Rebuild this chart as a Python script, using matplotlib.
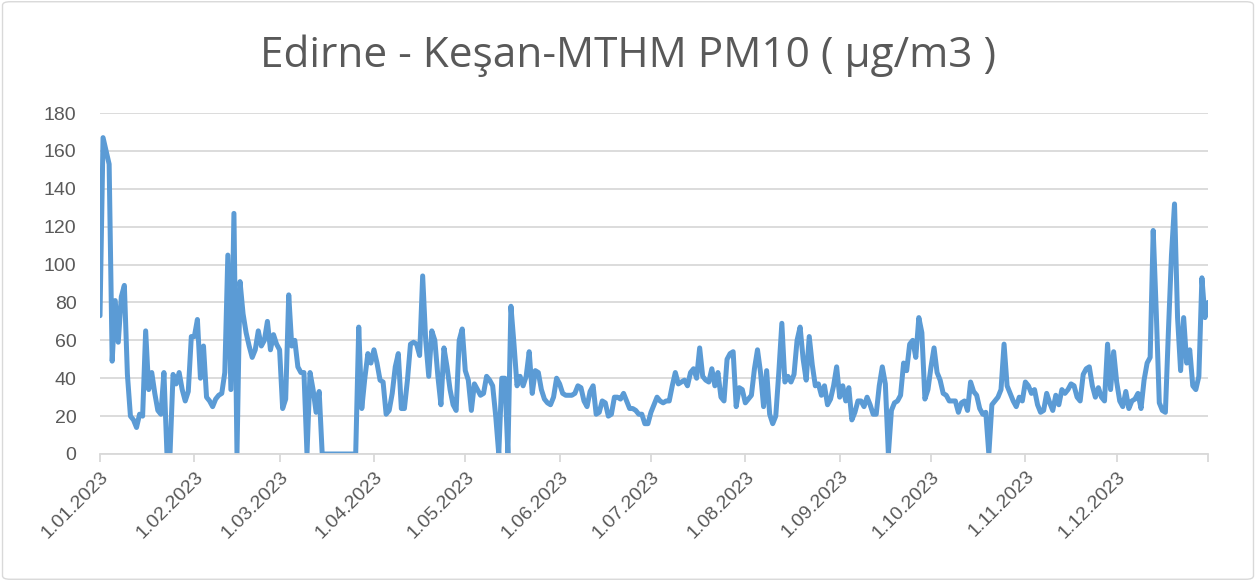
import matplotlib
matplotlib.use("Agg")
import matplotlib.pyplot as plt
import matplotlib.dates as mdates
import pandas as pd
import numpy as np
from matplotlib.patches import FancyBboxPatch

# Daily PM10 values (µg/m3), 2023, one list per month
jan = [73, 167, 160, 153, 49, 81, 59, 83, 89, 42, 20, 18, 14, 21, 20, 65, 34, 43, 32, 23,
       21, 43, 0, 0, 42, 37, 43, 34, 28, 33, 62]
feb = [62, 71, 40, 57, 30, 28, 25, 29, 31, 32, 43, 105, 34, 127, 0, 91, 74, 64, 57, 51,
       55, 65, 57, 60, 70, 55, 63, 58]
mar = [55, 24, 29, 84, 57, 60, 46, 43, 43, 0, 43, 34, 22, 33, 0, 0, 0, 0, 0, 0,
       0, 0, 0, 0, 0, 0, 67, 24, 40, 53, 48]
apr = [55, 48, 39, 38, 21, 23, 32, 46, 53, 24, 24, 39, 58, 59, 58, 52, 94, 60, 41, 65,
       60, 41, 26, 56, 46, 34, 26, 23, 60, 66]
may = [44, 39, 23, 37, 34, 31, 32, 41, 39, 36, 20, 0, 40, 40, 0, 78, 58, 36, 41, 36,
       41, 54, 32, 44, 43, 34, 29, 27, 26, 30, 40]
jun = [37, 32, 31, 31, 31, 32, 36, 35, 28, 25, 33, 36, 21, 22, 28, 27, 20, 21, 30, 30,
       29, 32, 28, 24, 24, 23, 21, 21, 16, 16]
jul = [22, 26, 30, 28, 27, 28, 28, 36, 43, 37, 38, 39, 36, 43, 45, 40, 56, 41, 39, 38,
       45, 36, 43, 30, 28, 50, 53, 54, 25, 35, 34]
aug = [27, 29, 31, 45, 55, 43, 25, 44, 21, 16, 20, 43, 69, 38, 41, 38, 42, 60, 67, 50,
       39, 62, 47, 36, 37, 31, 36, 26, 29, 36, 46]
sep = [30, 36, 28, 35, 18, 22, 28, 28, 25, 30, 26, 21, 21, 36, 46, 37, 0, 23, 27, 28,
       31, 48, 44, 58, 60, 51, 72, 64, 29, 34]
oct_ = [46, 56, 43, 39, 32, 31, 28, 28, 28, 22, 27, 28, 23, 38, 33, 31, 24, 21, 22, 0,
        26, 28, 30, 34, 58, 36, 32, 28, 25, 30, 28]
nov = [38, 36, 32, 34, 26, 22, 23, 32, 27, 23, 31, 26, 34, 32, 34, 37, 36, 30, 28, 42,
       45, 46, 36, 30, 35, 30, 28, 58, 34, 54]
dec = [38, 28, 25, 33, 24, 28, 29, 32, 24, 39, 48, 51, 118, 75, 27, 23, 22, 65, 105, 132,
       72, 44, 72, 48, 55, 36, 34, 41, 93, 72, 80]

values = jan + feb + mar + apr + may + jun + jul + aug + sep + oct_ + nov + dec
dates = pd.date_range("2023-01-01", "2023-12-31", freq="D")
title = "Edirne - Keşan-MTHM PM10 ( µg/m3 )"
yticks = [0, 20, 40, 60, 80, 100, 120, 140, 160, 180]
month_starts = pd.date_range("2023-01-01", "2023-12-01", freq="MS")
month_labels = [f"{d.day}.{d.month:02d}.{d.year}" for d in month_starts]

plt.rcParams['font.family'] = ['Liberation Sans', 'DejaVu Sans']
txt = '#595959'
grid = '#D9D9D9'

fig = plt.figure(figsize=(12.56, 5.81), dpi=100)
fig.patch.set_facecolor('white')
border = FancyBboxPatch((0.002, 0.003), 0.996, 0.994, boxstyle="round,pad=0,rounding_size=0.006",
                        transform=fig.transFigure, facecolor='none', edgecolor=grid, lw=1.0)
fig.patches.append(border)

ax = fig.add_axes([100/1256, 1-454/581, (1208-100)/1256, (454-113)/581])
ax.plot(dates, values, color='#5B9BD5', lw=3.6, solid_joinstyle='round', solid_capstyle='round')

ax.set_ylim(0, 180)
ax.set_xlim(pd.Timestamp("2023-01-01"), pd.Timestamp("2023-12-31"))
ax.set_yticks(yticks)
ax.set_yticklabels([str(v) for v in yticks])
ax.yaxis.grid(True, color=grid, lw=1.3)
ax.set_axisbelow(True)
for s in ['top', 'right', 'left']:
    ax.spines[s].set_visible(False)
ax.spines['bottom'].set_color(grid)
ax.spines['bottom'].set_linewidth(1.3)
ax.tick_params(axis='y', length=0, labelsize=14, labelcolor=txt, pad=17)
ax.set_xticks(list(month_starts) + [pd.Timestamp("2023-12-31")])
ax.set_xticklabels(month_labels + [""])
ax.tick_params(axis='x', length=6, width=1.3, color=grid, labelsize=14, labelcolor=txt, pad=4)
for lab in ax.get_xticklabels():
    lab.set_rotation(45)
    lab.set_ha('right')
    lab.set_va('top')
    lab.set_rotation_mode('anchor')

fig.text(0.5, 1-56/581, title, ha='center', va='center', fontsize=30.5, color=txt,
         family=['Open Sans', 'DejaVu Sans'])

fig.savefig("out.png", dpi=100, facecolor='white')
